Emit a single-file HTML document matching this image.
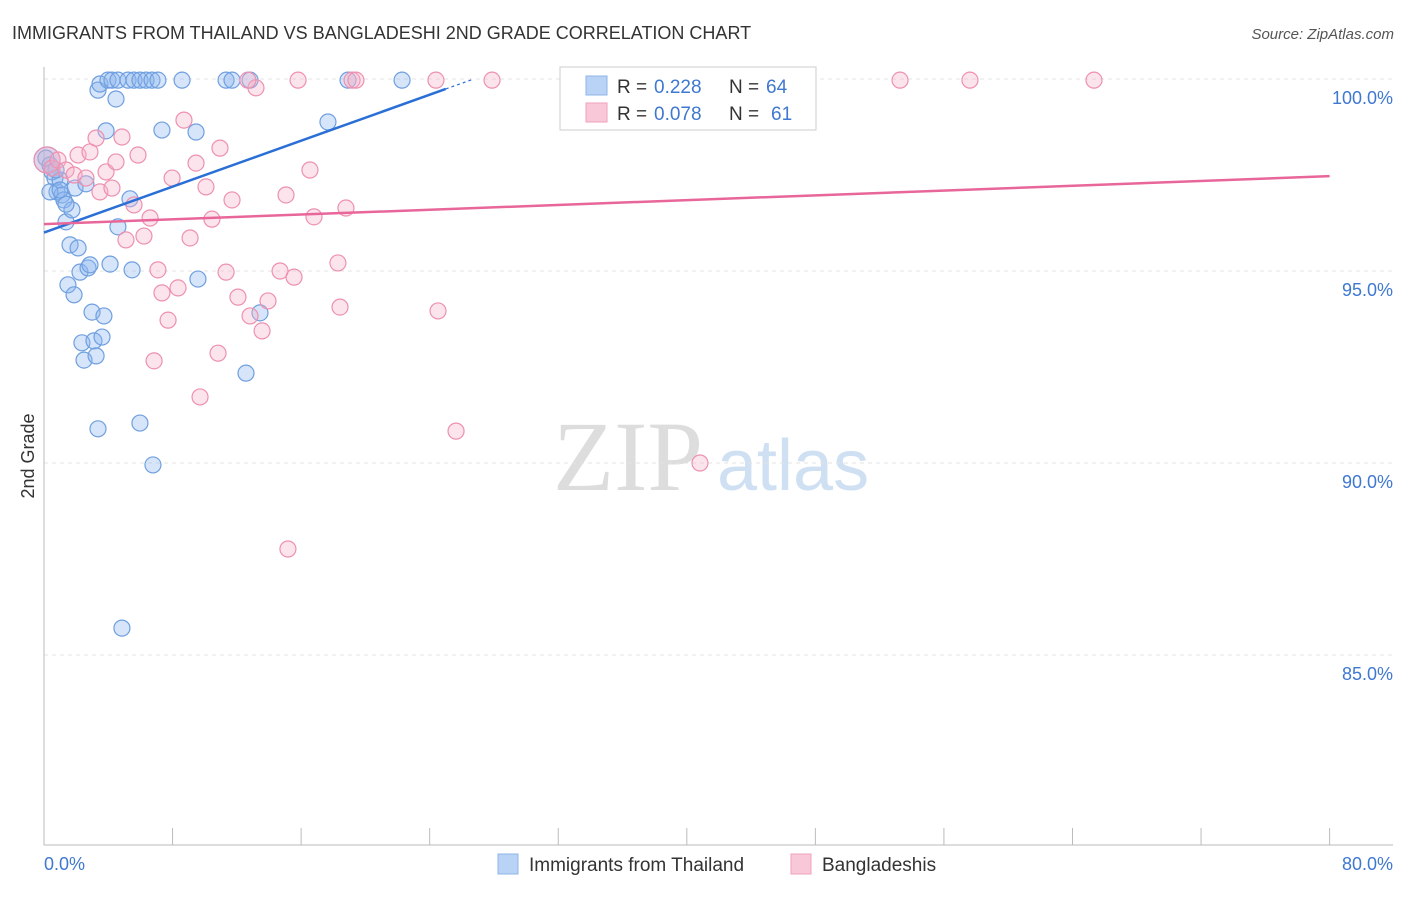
<!DOCTYPE html>
<html><head><meta charset="utf-8"><style>
body{margin:0;background:#fff;font-family:"Liberation Sans",sans-serif;}
</style></head><body>
<svg id="c" width="1406" height="892" xmlns="http://www.w3.org/2000/svg">
<text x="12" y="39" font-size="18" fill="#333">IMMIGRANTS FROM THAILAND VS BANGLADESHI 2ND GRADE CORRELATION CHART</text>
<text x="1394" y="39" font-size="15" fill="#555" font-style="italic" text-anchor="end">Source: ZipAtlas.com</text>
<text x="0" y="0" transform="translate(34,456) rotate(-90)" font-size="18" fill="#333" text-anchor="middle">2nd Grade</text>
<g><text x="553" y="490" font-size="100" font-family="Liberation Serif,serif" fill="#ddd">ZIP</text><text x="717" y="490" font-size="72" fill="#cfe0f3">atlas</text></g>
<g id="grid"></g><g id="axes"></g><g id="pts"></g><g id="trend"></g>
<g>
<rect x="560" y="67" width="256" height="63" fill="#fff" stroke="#ccc"/>
<rect x="586" y="76" width="21" height="19" fill="#b8d3f5" stroke="#8fb5e8"/>
<rect x="586" y="103" width="21" height="19" fill="#f9c8d8" stroke="#f0a0bb"/>
<text x="617" y="93" font-size="19" fill="#333">R =</text><text x="654" y="93" font-size="19" fill="#3f78d0">0.228</text>
<text x="729" y="93" font-size="19" fill="#333">N =</text><text x="766" y="93" font-size="19" fill="#3f78d0">64</text>
<text x="617" y="120" font-size="19" fill="#333">R =</text><text x="654" y="120" font-size="19" fill="#3f78d0">0.078</text>
<text x="729" y="120" font-size="19" fill="#333">N =</text><text x="771" y="120" font-size="19" fill="#3f78d0">61</text>
</g>
<g>
<rect x="498" y="854" width="20" height="20" fill="#b8d3f5" stroke="#8fb5e8"/>
<text x="529" y="871" font-size="19" fill="#333">Immigrants from Thailand</text>
<rect x="791" y="854" width="20" height="20" fill="#f9c8d8" stroke="#f0a0bb"/>
<text x="822" y="871" font-size="19" fill="#333">Bangladeshis</text>
</g>
</svg>
<script>
const yTicks=[100,95,90,85];
const yTickLabels=["100.0%","95.0%","90.0%","85.0%"];
const xTickCount=11;
const blueX=[0.19,0.37,0.5,0.68,0.81,1.0,1.12,1.24,1.37,1.62,1.74,1.93,2.12,2.24,1.49,1.87,2.74,2.86,2.61,2.99,3.73,2.36,3.11,3.61,2.49,3.24,3.36,3.48,3.98,4.23,4.6,4.48,5.23,5.6,5.97,6.35,6.72,7.09,8.59,11.33,11.7,12.82,18.92,22.28,3.86,7.34,9.46,17.67,5.35,4.6,4.11,5.48,9.58,13.44,12.57,3.36,5.97,6.78,4.85,0.37,0.75,1.37,0.12,1.0];
const blueY=[97.89,97.76,97.58,97.42,97.06,97.37,96.98,96.85,96.28,95.68,96.59,97.16,95.6,94.97,94.64,94.38,95.08,95.16,97.27,93.93,93.83,93.13,93.18,93.28,92.68,92.79,99.71,99.87,99.97,99.97,99.97,99.48,99.97,99.97,99.97,99.97,99.97,99.97,99.97,99.97,99.97,99.97,99.97,99.97,98.65,98.67,98.62,98.88,96.88,96.15,95.18,95.03,94.79,93.91,92.34,90.89,91.04,89.95,85.7,97.06,97.63,96.74,97.94,97.11];
const pinkX=[0.19,0.5,0.87,1.37,1.87,2.12,2.61,2.86,3.24,3.48,3.86,4.23,4.48,4.85,5.1,5.6,5.85,6.22,6.6,7.09,7.34,7.72,7.97,8.34,8.71,9.09,9.46,9.71,10.08,10.45,10.83,10.95,11.33,11.7,12.07,12.82,13.19,13.57,13.94,14.69,15.06,15.18,15.56,15.81,16.55,16.8,18.29,18.42,18.79,19.17,19.41,24.39,24.52,25.64,27.88,40.82,53.27,57.62,65.34,6.85,12.69];
const pinkY=[97.89,97.68,97.89,97.63,97.5,98.02,97.42,98.1,98.46,97.06,97.58,97.16,97.84,98.49,95.81,96.72,98.02,95.91,96.38,95.03,94.43,93.72,97.42,94.56,98.93,95.86,97.81,91.72,97.19,96.35,92.86,98.2,94.97,96.85,94.32,93.83,99.77,93.44,94.22,95.0,96.98,87.76,94.84,99.97,97.63,96.41,95.21,94.06,96.64,99.97,99.97,99.97,93.96,90.83,99.97,90.0,99.97,99.97,99.97,92.66,99.97];
const blueTrend=[[0,96.0],[25,99.74]];
const pinkTrend=[[0,96.22],[80,97.47]];
const NS="http://www.w3.org/2000/svg";
const X=v=>44+v*16.07, Y=v=>79+(100-v)*38.4;
function mk(t,a,p){const e=document.createElementNS(NS,t);for(const k in a)e.setAttribute(k,a[k]);p.appendChild(e);return e;}
const grid=document.getElementById('grid'),axes=document.getElementById('axes');
yTicks.forEach((t,i)=>{
 const l=mk('line',{x1:44,x2:1393,y1:Y(t),y2:Y(t),stroke:'#e3e3e3','stroke-dasharray':'4,4'},grid);
 
 
 const tx=mk('text',{x:1393,y:Y(t)+25,'font-size':18,fill:'#3f78d0','text-anchor':'end'},grid);
 tx.textContent=yTickLabels[i];
 
 
});
let a=mk('line',{x1:44,x2:44,y1:67,y2:845,stroke:'#bbb'},axes);


a=mk('line',{x1:44,x2:1393,y1:845,y2:845,stroke:'#bbb'},axes);


for(let i=0;i<xTickCount;i++){const x=X(i*8);const t=mk('line',{x1:x,x2:x,y1:828,y2:845,stroke:'#bbb'},axes);
 
 }
[[44,'start','0.0%'],[1393,'end','80.0%']].forEach(d=>{const t=mk('text',{x:d[0],y:870,'font-size':18,fill:'#3f78d0','text-anchor':d[1]},axes);t.textContent=d[2];
 
 });
const pts=document.getElementById('pts');
function drawPts(xs,ys,fill,stroke,name){xs.forEach((x,i)=>{const r=(i===0)?13:8;
 const c=mk('circle',{cx:X(x),cy:Y(ys[i]),r:r,fill:fill,'fill-opacity':0.35,stroke:stroke,'stroke-width':1.2},pts);
 
 });}
drawPts(blueX,blueY,'#8ab4ee','#6f9fe0','point-thailand');
drawPts(pinkX,pinkY,'#f6b3c9','#ee90b0','point-bangladeshi');
const tr=document.getElementById('trend');
let l=mk('line',{x1:X(blueTrend[0][0]),y1:Y(blueTrend[0][1]),x2:X(blueTrend[1][0]),y2:Y(blueTrend[1][1]),stroke:'#2a6fd6','stroke-width':2.5},tr);


const s=(blueTrend[1][1]-blueTrend[0][1])/(blueTrend[1][0]-blueTrend[0][0]);
l=mk('line',{x1:X(blueTrend[1][0]),y1:Y(blueTrend[1][1]),x2:X(blueTrend[1][0]+1.6),y2:Y(blueTrend[1][1]+1.6*s),stroke:'#2a6fd6','stroke-width':1.2,'stroke-dasharray':'3,3'},tr);


l=mk('line',{x1:X(pinkTrend[0][0]),y1:Y(pinkTrend[0][1]),x2:X(pinkTrend[1][0]),y2:Y(pinkTrend[1][1]),stroke:'#e8669a','stroke-width':2.5},tr);


</script>
</body></html>
